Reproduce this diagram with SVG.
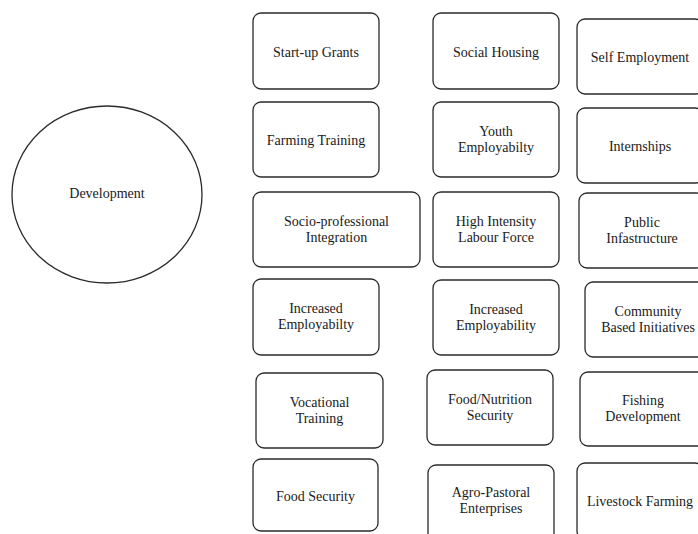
<svg xmlns="http://www.w3.org/2000/svg" width="698" height="534" viewBox="0 0 698 534">
  <style>
    .box { fill: #ffffff; stroke: #2a2a2a; stroke-width: 1.3; }
    .lbl { font-family: "Liberation Serif", "Times New Roman", serif; font-size: 14px; fill: #1a1a1a; text-anchor: middle; }
  </style>
  <rect width="698" height="534" fill="#ffffff"/>

  <!-- central node -->
  <g id="development">
    <ellipse class="box" cx="107" cy="194.5" rx="95" ry="88.5"/>
    <text class="lbl" x="107" y="198">Development</text>
  </g>

  <!-- column 1 -->
  <g id="startup-grants">
    <rect class="box" x="253" y="13" width="126" height="76" rx="8"/>
    <text class="lbl" x="316" y="56.5">Start-up Grants</text>
  </g>
  <g id="farming-training">
    <rect class="box" x="253" y="102" width="126" height="75" rx="8"/>
    <text class="lbl" x="316" y="145">Farming Training</text>
  </g>
  <g id="socio-professional">
    <rect class="box" x="253" y="192" width="167" height="75" rx="8"/>
    <text class="lbl" x="336.5" y="225.7">Socio-professional</text>
    <text class="lbl" x="336.5" y="241.7">Integration</text>
  </g>
  <g id="increased-employabilty">
    <rect class="box" x="253" y="279" width="126" height="76" rx="8"/>
    <text class="lbl" x="316" y="313.2">Increased</text>
    <text class="lbl" x="316" y="329.2">Employabilty</text>
  </g>
  <g id="vocational-training">
    <rect class="box" x="256" y="373" width="127" height="75" rx="8"/>
    <text class="lbl" x="319.5" y="406.7">Vocational</text>
    <text class="lbl" x="319.5" y="422.7">Training</text>
  </g>
  <g id="food-security">
    <rect class="box" x="253" y="459" width="125" height="72" rx="8"/>
    <text class="lbl" x="315.5" y="501">Food Security</text>
  </g>

  <!-- column 2 -->
  <g id="social-housing">
    <rect class="box" x="433" y="13" width="126" height="76" rx="8"/>
    <text class="lbl" x="496" y="56.5">Social Housing</text>
  </g>
  <g id="youth-employabilty">
    <rect class="box" x="433" y="102" width="126" height="75" rx="8"/>
    <text class="lbl" x="496" y="135.7">Youth</text>
    <text class="lbl" x="496" y="151.7">Employabilty</text>
  </g>
  <g id="high-intensity">
    <rect class="box" x="433" y="192" width="126" height="75" rx="8"/>
    <text class="lbl" x="496" y="225.7">High Intensity</text>
    <text class="lbl" x="496" y="241.7">Labour Force</text>
  </g>
  <g id="increased-employability">
    <rect class="box" x="433" y="280" width="126" height="75" rx="8"/>
    <text class="lbl" x="496" y="313.7">Increased</text>
    <text class="lbl" x="496" y="329.7">Employability</text>
  </g>
  <g id="food-nutrition">
    <rect class="box" x="427" y="370" width="126" height="75" rx="8"/>
    <text class="lbl" x="490" y="403.7">Food/Nutrition</text>
    <text class="lbl" x="490" y="419.7">Security</text>
  </g>
  <g id="agro-pastoral">
    <rect class="box" x="428" y="465" width="126" height="76" rx="8"/>
    <text class="lbl" x="491" y="496.7">Agro-Pastoral</text>
    <text class="lbl" x="491" y="512.7">Enterprises</text>
  </g>

  <!-- column 3 -->
  <g id="self-employment">
    <rect class="box" x="577" y="19" width="126" height="75" rx="8"/>
    <text class="lbl" x="640" y="61.5">Self Employment</text>
  </g>
  <g id="internships">
    <rect class="box" x="577" y="108" width="126" height="75" rx="8"/>
    <text class="lbl" x="640" y="150.5">Internships</text>
  </g>
  <g id="public-infastructure">
    <rect class="box" x="579" y="193" width="126" height="75" rx="8"/>
    <text class="lbl" x="642" y="226.7">Public</text>
    <text class="lbl" x="642" y="242.7">Infastructure</text>
  </g>
  <g id="community-initiatives">
    <rect class="box" x="585" y="282" width="126" height="75" rx="8"/>
    <text class="lbl" x="648" y="315.7">Community</text>
    <text class="lbl" x="648" y="331.7">Based Initiatives</text>
  </g>
  <g id="fishing-development">
    <rect class="box" x="580" y="372" width="126" height="74" rx="8"/>
    <text class="lbl" x="643" y="405.2">Fishing</text>
    <text class="lbl" x="643" y="421.2">Development</text>
  </g>
  <g id="livestock-farming">
    <rect class="box" x="577" y="463" width="126" height="76" rx="8"/>
    <text class="lbl" x="640" y="505.5">Livestock Farming</text>
  </g>

  <!-- no connectors are drawn between the nodes -->
  <g id="connectors"></g>
</svg>
